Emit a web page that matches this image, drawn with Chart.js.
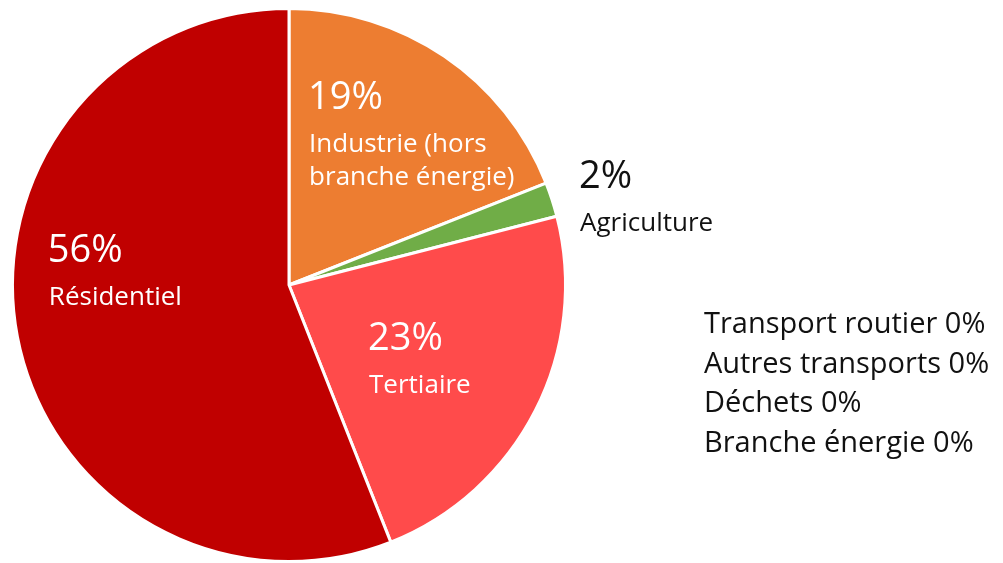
<!DOCTYPE html>
<html>
<head>
<meta charset="utf-8">
<script src="https://cdn.jsdelivr.net/npm/chart.js@4.4.0/dist/chart.umd.min.js"></script>
<style>
  body { margin: 0; background: #fff; }
  canvas { display: block; }
</style>
</head>
<body>
<canvas id="pie-chartcanvas" width="1003" height="563"></canvas>
<script>
// sectors shown as slices
var sectors = ["Industrie (hors branche énergie)", "Agriculture", "Tertiaire", "Résidentiel"];
var shares = [19, 2, 23, 56];
var sliceColors = ["#ED7D31", "#70AD47", "#FF4B4B", "#C00000"];
var sliceLabelLines = [["Industrie (hors", "branche énergie)"], ["Agriculture"], ["Tertiaire"], ["Résidentiel"]];
var sliceTextColors = ["#fff", "#111", "#fff", "#fff"];

// sectors with nothing
var zeroSectors = ["Transport routier", "Autres transports", "Déchets", "Branche énergie"];
var zeroShares = [0, 0, 0, 0];

// top-left anchor of each label block: fraction of radius, angle shift from slice middle (deg)
var labelRadius = [0.64, 1.106, 0.37, 0.876];
var labelShift = [-28, -0.5, 12.4, 16.2];

var FONT = "'Open Sans', sans-serif";

var labelPlugin = {
  id: "sliceLabels",
  afterDatasetsDraw: function(chart) {
    var ctx = chart.ctx;
    var meta = chart.getDatasetMeta(0);
    ctx.save();
    ctx.textAlign = "left";
    ctx.textBaseline = "alphabetic";
    for (var i = 0; i < sectors.length; i++) {
      var arc = meta.data[i];
      var p = arc.getProps(["x", "y", "startAngle", "endAngle", "outerRadius"], true);
      var mid = (p.startAngle + p.endAngle) / 2 + labelShift[i] * Math.PI / 180;
      var r = p.outerRadius * labelRadius[i];
      var left = p.x + Math.cos(mid) * r;
      var base = p.y + Math.sin(mid) * r;

      ctx.fillStyle = sliceTextColors[i];
      ctx.font = "38px " + FONT;
      ctx.fillText(shares[i] + "%", left, base);
      ctx.font = "26px " + FONT;
      sliceLabelLines[i].forEach(function(l, k) { ctx.fillText(l, left + 1, base + 43 + 33 * k); });
    }

    // list of empty sectors
    var area = chart.chartArea;
    var x0 = area.right + 137;
    var y0 = meta.data[0].y + 48;
    ctx.fillStyle = "#111";
    ctx.font = "29px " + FONT;
    for (var j = 0; j < zeroSectors.length; j++) {
      ctx.fillText(zeroSectors[j] + " " + zeroShares[j] + "%", x0, y0 + 39.5 * j);
    }
    ctx.restore();
  }
};

var ctx = document.getElementById("pie-chartcanvas");
var chart = new Chart(ctx, {
  type: "pie",
  data: {
    labels: sectors,
    datasets: [{
      data: shares,
      backgroundColor: sliceColors,
      borderColor: "#fff",
      borderWidth: 3
    }]
  },
  options: {
    responsive: false,
    animation: false,
    layout: { padding: { left: 11, right: 436, top: 7, bottom: 0 } },
    plugins: {
      legend: { display: false },
      tooltip: { enabled: false }
    }
  },
  plugins: [labelPlugin]
});
</script>
</body>
</html>
